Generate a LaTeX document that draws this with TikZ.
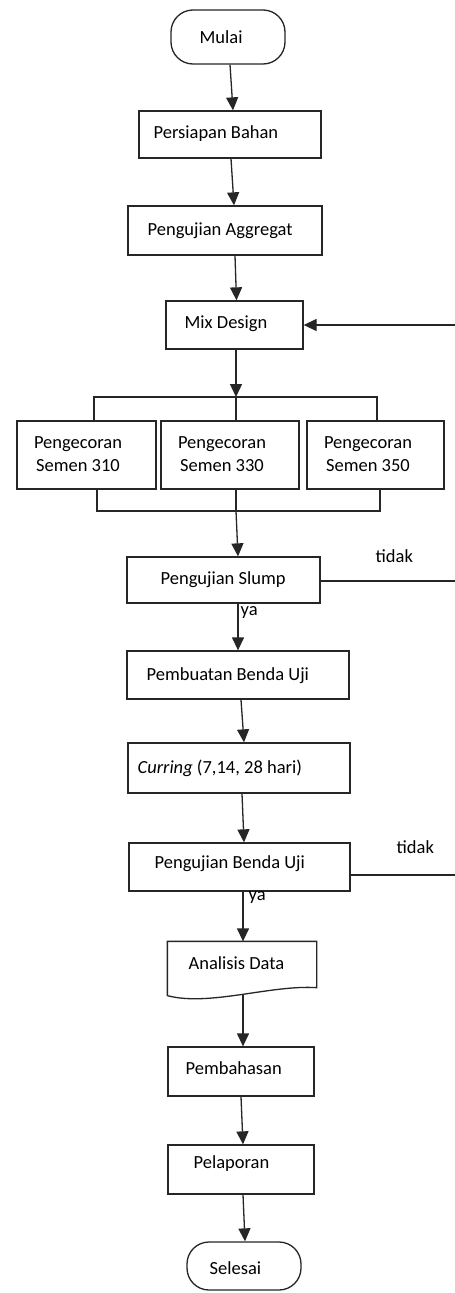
\documentclass[tikz,border=0pt]{standalone}
\usepackage{fontspec}
\setmainfont{Carlito}
\usetikzlibrary{arrows.meta,calc}
\begin{document}
\begin{tikzpicture}[x=1pt,y=-1pt, line width=1.3pt, draw=black!85,
  box/.style={draw=black!85, rectangle, inner sep=0},
  term/.style={draw=black!85, rectangle, rounded corners=22pt, inner sep=0},
  txt/.style={inner sep=0, anchor=west, font=\fontsize{18.5}{22}\selectfont},
  ctxt/.style={inner sep=0, anchor=center, align=center, font=\fontsize{18.5}{23}\selectfont},
  arr/.style={-{Triangle[length=13pt,width=12pt]}}]
\useasboundingbox (0,0) rectangle (455,1293);
\fill[white] (0,0) rectangle (455,1293);

% shapes
\node[term, minimum width=114pt, minimum height=54pt] (mulai) at (228,37) {};
\node[box, minimum width=182pt, minimum height=47pt] (persiapan) at (230,134.5) {};
\node[box, minimum width=194pt, minimum height=49pt] (aggregat) at (225,230.5) {};
\node[box, minimum width=137pt, minimum height=48pt] (mix) at (234.5,325) {};
\node[box, minimum width=139pt, minimum height=68pt] (p310) at (86.5,455) {};
\node[box, minimum width=138pt, minimum height=68pt] (p330) at (230,455) {};
\node[box, minimum width=137pt, minimum height=68pt] (p350) at (375.5,455) {};
\node[box, minimum width=193pt, minimum height=46pt] (slump) at (223.5,580) {};
\node[box, minimum width=222pt, minimum height=48pt] (pembuatan) at (238,675) {};
\node[box, minimum width=222pt, minimum height=50pt] (curring) at (239,768) {};
\node[box, minimum width=221pt, minimum height=48pt] (benda) at (239.5,867) {};
\node[rectangle, inner sep=0, minimum width=148pt, minimum height=53pt] (analisis) at (242,968.5) {};
\draw (analisis.north west) -- (analisis.north east) -- ([yshift=8pt]analisis.south east)
  .. controls ([xshift=-46pt,yshift=11pt]analisis.south east) and ([xshift=42pt,yshift=-11pt]analisis.south west) .. (analisis.south west) -- cycle;
\node[box, minimum width=146pt, minimum height=49pt] (pembahasan) at (241,1071.5) {};
\node[box, minimum width=146pt, minimum height=49pt] (pelaporan) at (241,1169.5) {};
\node[term, minimum width=114pt, minimum height=48pt] (selesai) at (244,1266) {};

% texts
\node[txt] (tmulai) at (199,37) {Mulai};
\node[txt] (tpersiapan) at (153,134) {Persiapan Bahan};
\node[txt] (taggregat) at (147,231) {Pengujian Aggregat};
\node[txt] (tmix) at (184,324) {Mix Design};
\node[ctxt] (t310) at (78,454) {Pengecoran\\Semen 310};
\node[ctxt] (t330) at (222,454) {Pengecoran\\Semen 330};
\node[ctxt] (t350) at (368,454) {Pengecoran\\Semen 350};
\node[txt] (tslump) at (160,580) {Pengujian Slump};
\node[txt] (tpembuatan) at (146,676) {Pembuatan Benda Uji};
\node[txt] (tcurring) at (137,768) {\textit{Curring} (7,14, 28 hari)};
\node[txt] (tbenda) at (154,864) {Pengujian Benda Uji};
\node[txt] (tanalisis) at (188,963) {Analisis Data};
\node[txt] (tpembahasan) at (185,1068) {Pembahasan};
\node[txt] (tpelaporan) at (193,1164) {Pelaporan};
\node[txt] (tselesai) at (209,1268) {Selesai};
\node[txt] (tidak1) at (375,556) {tidak};
\node[txt] (tidak2) at (396,847) {tidak};
\node[txt] (ya1) at (240,612) {ya};
\node[txt] (ya2) at (248,897) {ya};

% edge coordinates
\coordinate (e1) at (455,325);
\coordinate (e2) at (455,581);
\coordinate (e3) at (455,875);
\coordinate (brL) at (94,397);
\coordinate (brC) at (236,397);
\coordinate (brR) at (377,397);
\coordinate (jnL) at (97,511);
\coordinate (jnC) at (236,511);
\coordinate (jnR) at (380,511);

% connectors
\draw[arr] ([xshift=2pt]mulai.south) -- ([xshift=3pt]persiapan.north);
\draw[arr] ([xshift=1pt]persiapan.south) -- ([xshift=9pt]aggregat.north);
\draw[arr] ([xshift=10pt]aggregat.south) -- ([xshift=2pt]mix.north);
\draw[arr] (e1) -- (mix.east);
\draw[arr] ([xshift=1.5pt]mix.south) -- (brC);
\draw (p310.north -| brL) -- (brL) -- (brR) -- (p350.north -| brR);
\draw (brC) -- (p330.north -| brC);
\draw (p310.south -| jnL) -- (jnL) -- (jnR) -- (p350.south -| jnR);
\draw (p330.south -| jnC) -- (jnC);
\draw[arr] (jnC) -- ([xshift=14.5pt]slump.north);
\draw ([yshift=-1pt]slump.east) -- ([yshift=-1pt]slump.east -| e2);
\draw[arr] ([xshift=14.5pt]slump.south) -- (pembuatan.north);
\draw[arr] ([xshift=3pt]pembuatan.south) -- ([xshift=5pt]curring.north);
\draw[arr] ([xshift=3pt]curring.south) -- ([xshift=4.5pt]benda.north);
\draw ([yshift=-8pt]benda.east) -- ([yshift=-8pt]benda.east -| e3);
\draw[arr] ([xshift=3.5pt]benda.south) -- ([xshift=1pt]analisis.north);
\draw[arr] ([xshift=1pt,yshift=1pt]analisis.south) -- ([xshift=2pt]pembahasan.north);
\draw[arr] (pembahasan.south) -- ([xshift=2pt]pelaporan.north);
\draw[arr] ([xshift=2pt]pelaporan.south) -- ([xshift=1pt]selesai.north);
\end{tikzpicture}
\end{document}
